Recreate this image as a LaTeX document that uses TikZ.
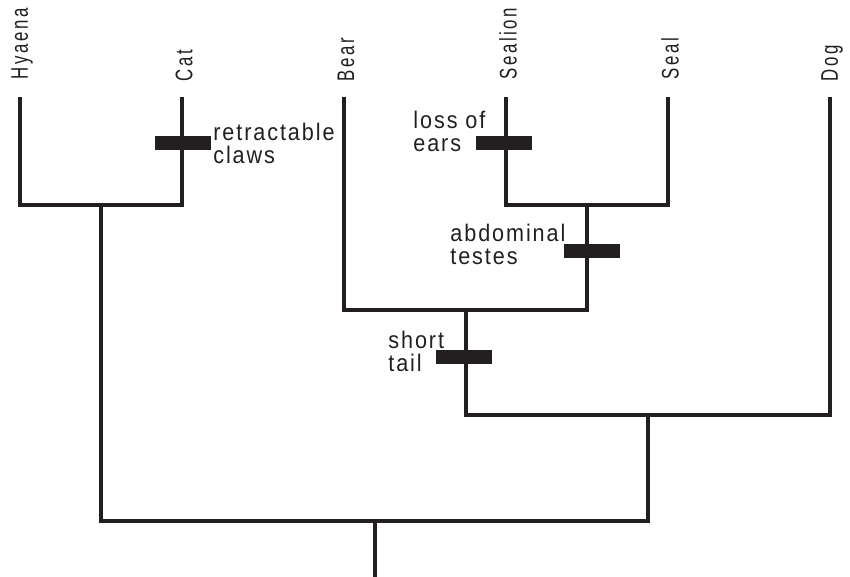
\documentclass[tikz,border=0pt]{standalone}
\usepackage{fontspec}
\setmainfont{Liberation Sans}
\newfontfamily\taxonfont[FakeStretch=0.7,LetterSpace=11]{Liberation Sans}
\newfontfamily\traitfont[FakeStretch=0.9,LetterSpace=8]{Liberation Sans}
\usetikzlibrary{positioning}
\definecolor{ink}{HTML}{231F20}

\tikzset{
  branch/.style={line width=2pt,draw=ink,line join=miter},
  taxon/.style={rotate=90,anchor=west,inner sep=0pt,text=ink,
    font=\taxonfont\fontsize{12}{14}\selectfont},
  synapo/.style={fill=ink,minimum width=28pt,minimum height=7pt,inner sep=0pt},
  trait/.style={align=left,anchor=west,inner sep=0pt,text=ink,
    font=\traitfont\fontsize{12}{11.5}\selectfont},
}

\begin{document}
\begin{tikzpicture}[x=0.5pt,y=-0.5pt]
  \useasboundingbox (0,0) rectangle (850,577);
  % taxa
  \node[taxon] (hyaena) at (22,80) {Hyaena};
  \node[taxon] (cat) at (184,82) {Cat};
  \node[taxon] (bear) at (346,82) {Bear};
  \node[taxon] (sealion) at (508,80) {Sealion};
  \node[taxon] (seal) at (670,80) {Seal};
  \node[taxon] (dog) at (832,82) {Dog};
  % branch tips and nodes of the tree
  \coordinate (hy) at (20,97);  \coordinate (ca) at (182,97);
  \coordinate (be) at (344,97); \coordinate (sl) at (506,97);
  \coordinate (se) at (668,97); \coordinate (do) at (830,97);
  \coordinate (feli) at (101,205);
  \coordinate (pinn) at (587,205);
  \coordinate (arct) at (465.5,310);
  \coordinate (cani) at (647.5,415);
  \coordinate (carn) at (374.5,521);
  \coordinate (base) at (374.5,577);
  % tree
  \draw[branch] (hy) |- (feli) -| (ca);
  \draw[branch] (sl) |- (pinn) -| (se);
  \draw[branch] (be) |- (arct) -| (pinn);
  \draw[branch] (arct) |- (cani) -| (do);
  \draw[branch] (feli) |- (carn) -| (cani);
  \draw[branch] (carn) -- (base);
  % characters
  \node[synapo] (claws) at (182.5,143) {};
  \node[synapo] (ears) at (504,143) {};
  \node[synapo] (testes) at (591.5,251) {};
  \node[synapo] (tail) at (463.5,357) {};
  \node[trait,right=1pt of claws] (clawslbl) {retractable\\claws};
  \node[trait] (earslbl) at (413,131) {loss of\\ears};
  \node[trait] (testeslbl) at (450,244) {abdominal\\testes};
  \node[trait] (taillbl) at (388,351) {short\\tail};
\end{tikzpicture}
\end{document}
